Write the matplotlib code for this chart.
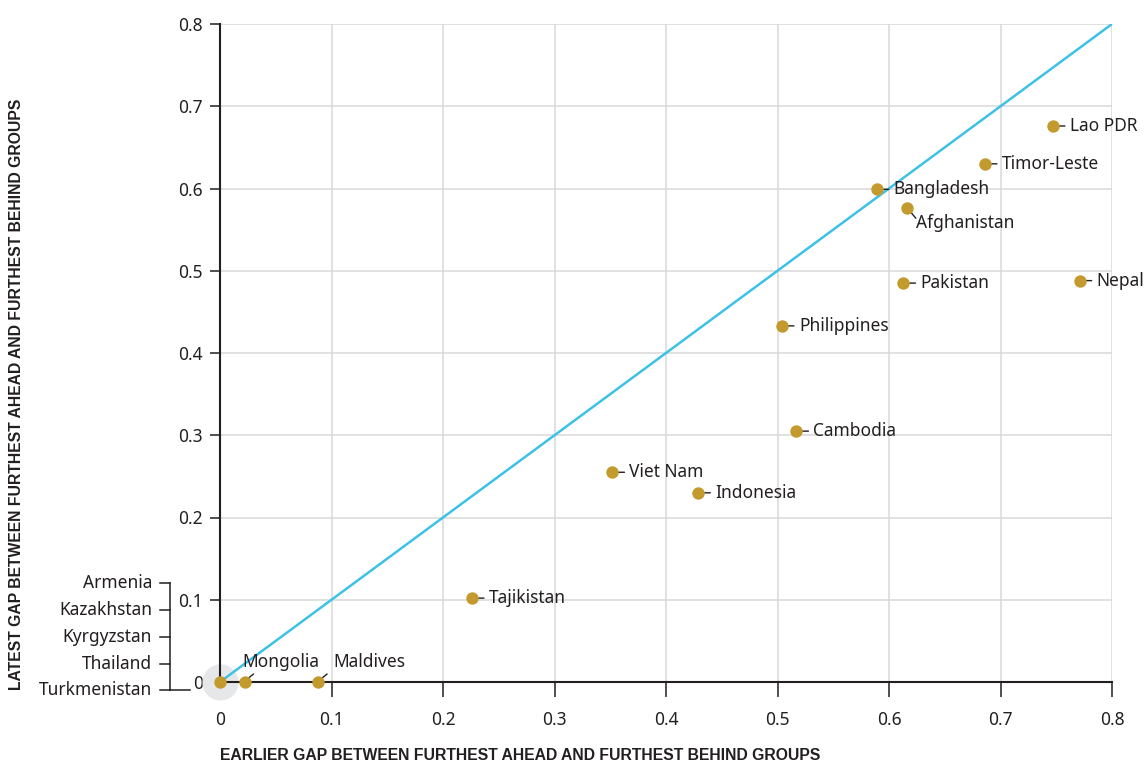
import matplotlib.pyplot as plt
import matplotlib.transforms as mtransforms

plt.rcParams['font.family'] = ['Noto Sans', 'DejaVu Sans']

# 数据：早期差距 vs 最新差距
countries = ['Lao PDR', 'Timor-Leste', 'Bangladesh', 'Afghanistan', 'Pakistan', 'Nepal',
             'Philippines', 'Cambodia', 'Viet Nam', 'Indonesia', 'Tajikistan',
             'Mongolia', 'Maldives']
earlier_gap = [0.747, 0.686, 0.589, 0.616, 0.613, 0.771,
               0.504, 0.517, 0.352, 0.429, 0.226,
               0.022, 0.088]
latest_gap = [0.676, 0.630, 0.599, 0.576, 0.485, 0.488,
              0.433, 0.305, 0.255, 0.230, 0.102,
              0.0, 0.0]
# 两个值都是0的国家
zero_countries = ['Armenia', 'Kazakhstan', 'Kyrgyzstan', 'Thailand', 'Turkmenistan']
ticks = [0, 0.1, 0.2, 0.3, 0.4, 0.5, 0.6, 0.7, 0.8]
tick_labels = ['0', '0.1', '0.2', '0.3', '0.4', '0.5', '0.6', '0.7', '0.8']

TXT = '#231f20'
GOLD = '#c39a2e'
W, H = 1148, 762

fig = plt.figure(figsize=(11.48, 7.62), dpi=100)
ax = fig.add_axes([220 / W, 1 - 682 / H, (1112 - 220) / W, (682 - 24) / H])

ax.set_xlim(0, 0.8)
ax.set_ylim(0, 0.8)
ax.set_xticks(ticks)
ax.set_xticklabels(tick_labels)
ax.set_yticks(ticks)
ax.set_yticklabels(tick_labels)
ax.grid(True, color='#d9d9d9', linewidth=1.1)
ax.set_axisbelow(True)
for s in ['top', 'right']:
    ax.spines[s].set_visible(False)
for s in ['left', 'bottom']:
    ax.spines[s].set_color(TXT)
    ax.spines[s].set_linewidth(1.5)
    ax.spines[s].set_zorder(3)
ax.tick_params(axis='x', length=11, width=1.1, pad=10, labelsize=12.5, colors=TXT)
ax.tick_params(axis='y', length=7.5, width=1.1, pad=5, labelsize=12.5, colors=TXT)

# 对角线
ax.plot([0, 0.8], [0, 0.8], color='#3ec1e6', linewidth=1.8, zorder=2.5)

# 原点灰色圆
ax.scatter([0], [0], s=680, color='#e6e7e8', zorder=1.5, clip_on=False, linewidths=0)
ax.scatter(earlier_gap + [0], latest_gap + [0], s=80, color=GOLD, zorder=5,
           clip_on=False, linewidths=0)

# 标签偏移（像素）：文字偏移, 引线起点, 引线终点
default_off = ((17, 0), (5, 0), (12, 0))
special = {
    'Afghanistan': ((9, -15), (4, -4), (9, -10)),
    'Mongolia': ((-2, 20), (4, 4), (9, 8)),
    'Maldives': ((15, 20), (4, 4), (9, 8)),
}
for name, x, y in zip(countries, earlier_gap, latest_gap):
    toff, a, b = special.get(name, default_off)
    tr = mtransforms.offset_copy(ax.transData, fig, x=toff[0], y=toff[1], units='dots')
    ax.text(x, y, name, transform=tr, ha='left', va='center', fontsize=12.5,
            color=TXT, clip_on=False, zorder=6)
    tr_a = mtransforms.offset_copy(ax.transData, fig, x=a[0], y=a[1], units='dots')
    tr_b = mtransforms.offset_copy(ax.transData, fig, x=b[0], y=b[1], units='dots')
    ax.annotate('', xy=(x, y), xycoords=tr_a, xytext=(x, y), textcoords=tr_b,
                arrowprops=dict(arrowstyle='-', color=TXT, lw=1.0, shrinkA=0, shrinkB=0),
                annotation_clip=False, zorder=4)

# 左边的括号（国家值为0）
ys = [583, 610, 637, 664, 690]
ftr = fig.transFigure
for name, py in zip(zero_countries, ys):
    fig.text(152 / W, 1 - py / H, name, ha='right', va='center', fontsize=12.5, color=TXT)
    fig.add_artist(plt.Line2D([160 / W, 170 / W], [1 - py / H, 1 - py / H],
                              color=TXT, lw=1.1, transform=ftr))
fig.add_artist(plt.Line2D([170 / W, 170 / W], [1 - ys[0] / H, 1 - ys[-1] / H],
                          color=TXT, lw=1.1, transform=ftr))
fig.add_artist(plt.Line2D([170 / W, 190 / W], [1 - ys[-1] / H, 1 - ys[-1] / H],
                          color=TXT, lw=1.1, transform=ftr))

# 坐标轴标题
title_font = dict(family=['Liberation Sans', 'DejaVu Sans'], fontsize=11.3,
                  fontweight='bold', color=TXT)
fig.text(220 / W, 1 - 755 / H, 'EARLIER GAP BETWEEN FURTHEST AHEAD AND FURTHEST BEHIND GROUPS',
         ha='left', va='center', **title_font)
fig.text(17 / W, 1 - 690 / H, 'LATEST GAP BETWEEN FURTHEST AHEAD AND FURTHEST BEHIND GROUPS',
         ha='center', va='bottom', rotation=90, **title_font)

fig.savefig('out.png', dpi=100)
